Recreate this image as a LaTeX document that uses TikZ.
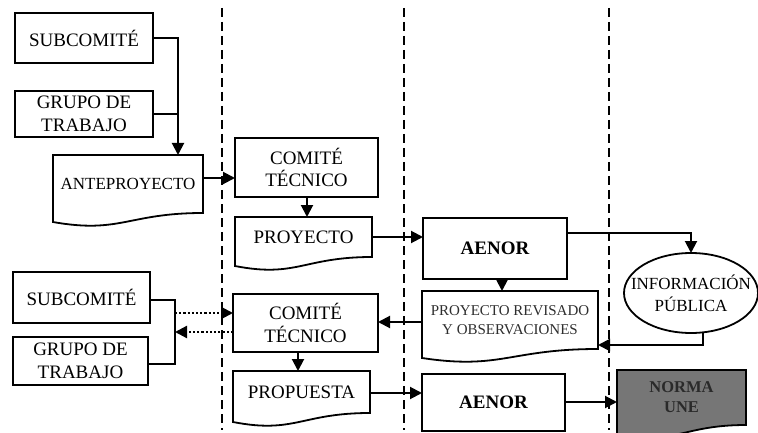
\documentclass[tikz,border=0pt]{standalone}
\usepackage{fontspec}
\setmainfont{Liberation Serif}
\usetikzlibrary{arrows.meta,shapes.geometric,calc,backgrounds}
\definecolor{normagray}{HTML}{767676}
\definecolor{normatext}{HTML}{2A2A2A}
\newcommand{\docshape}[2][]{%
  \draw[line width=1.8pt,#1] (#2.north west) -- (#2.north east) -- (#2.south east)
    .. controls ($(#2.south east)!0.5!(#2.south west)$) and ($(#2.south west)!0.45!(#2.south east)+(0,21)$)
    .. ($(#2.south west)+(0,9)$) -- cycle;}
\begin{document}
\begin{tikzpicture}[x=1pt,y=-1pt,
  box/.style={draw,line width=1.8pt,inner sep=0pt,outer sep=0pt,anchor=north west,align=center,font=\fontsize{19}{22.5}\selectfont},
  docbox/.style={inner sep=0pt,outer sep=0pt,anchor=north west,align=center,font=\fontsize{19}{22.5}\selectfont},
  arr/.style={line width=2pt,-{Triangle[length=12pt,width=12pt]}},
  ln/.style={line width=2pt},
  dotarr/.style={line width=2.2pt,dash pattern=on 2.2pt off 2pt,-{Triangle[length=12pt,width=12pt]}},
  divider/.style={line width=2.2pt,dash pattern=on 9pt off 5pt}]
\useasboundingbox (0,0) rectangle (758,433);

% dashed dividers
\draw[divider] (222,8) -- (222,430);
\draw[divider] (404,8) -- (404,430);
\draw[divider] (609,8) -- (609,430);

% top left
\node[box,minimum width=138pt,minimum height=50pt] (sub1) at (15,13) {SUBCOMITÉ};
\node[box,minimum width=138pt,minimum height=46pt] (grp1) at (15,91) {GRUPO DE\\TRABAJO};
\node[docbox,minimum width=150pt,minimum height=58pt,font=\fontsize{17}{20}\selectfont] (ante) at (53,155) {\raisebox{-3pt}{ANTEPROYECTO}};

% second column top
\node[box,minimum width=143pt,minimum height=59pt] (com1) at (235,138) {COMITÉ\\TÉCNICO};
\node[docbox,minimum width=137pt,minimum height=40pt] (proy) at (235,217) {PROYECTO};

% third column
\node[box,minimum width=144pt,minimum height=61pt,font=\fontsize{19}{22}\selectfont\bfseries] (aen1) at (423,218) {AENOR};
\node[docbox,minimum width=176pt,minimum height=58pt,font=\fontsize{15}{19}\selectfont,text=black!82] (rev) at (422,291) {PROYECTO REVISADO\\Y OBSERVACIONES};

% fourth column
\node[draw,ellipse,line width=1.8pt,inner sep=0pt,outer sep=0pt,minimum width=134pt,minimum height=80pt,
  label={[align=center,font=\fontsize{17}{22}\selectfont]center:INFORMACIÓN\\PÚBLICA}] (info) at (691,293) {};

% bottom left
\node[box,minimum width=137pt,minimum height=51pt] (sub2) at (13,272) {SUBCOMITÉ};
\node[box,minimum width=135pt,minimum height=48pt] (grp2) at (13,337) {GRUPO DE\\TRABAJO};
\node[box,minimum width=145pt,minimum height=58pt] (com2) at (233,294) {COMITÉ\\TÉCNICO};
\node[docbox,minimum width=137pt,minimum height=42pt] (prop) at (233,371) {PROPUESTA};
\node[box,minimum width=143pt,minimum height=57pt,font=\fontsize{19}{22}\selectfont\bfseries] (aen2) at (422,374) {AENOR};
\node[docbox,minimum width=129pt,minimum height=55pt,font=\fontsize{16.5}{20}\selectfont\bfseries,text=normatext] (norma) at (617,370) {NORMA\\UNE};

\begin{pgfonlayer}{background}
\docshape{ante}
\docshape{proy}
\docshape{rev}
\docshape{prop}
\docshape[fill=normagray]{norma}
\end{pgfonlayer}

% helper coordinates
\coordinate (col1) at (178,0);
\coordinate (r1) at (0,178);
\coordinate (col2) at (307,0);
\coordinate (r2) at (0,233);
\coordinate (col3) at (502,0);
\coordinate (r3) at (0,345);
\coordinate (r4) at (0,322);
\coordinate (col4) at (298,0);
\coordinate (r5) at (0,393);
\coordinate (r6) at (0,402);
\coordinate (col5) at (175,0);
\coordinate (r7) at (0,300);
\coordinate (r8) at (0,364);
\coordinate (r9) at (0,313);
\coordinate (r10) at (0,332);

% connectors top
\draw[arr] (sub1.east) -| (ante.north -| col1);
\draw[ln] (grp1.east) -- (grp1.east -| col1);
\draw[arr] (ante.east |- r1) -- (com1.west |- r1);
\draw[arr] (com1.south -| col2) -- (proy.north -| col2);
\draw[arr] (proy.east) -- (aen1.west |- proy.east);
\draw[arr] (aen1.east |- r2) -| (info.north);
\draw[arr] ([xshift=12pt]info.south) |- (rev.east |- r3);
\draw[arr] (aen1.south -| col3) -- (rev.north -| col3);
\draw[arr] (rev.west |- r4) -- (com2.east |- r4);

% connectors bottom
\draw[arr] (com2.south -| col4) -- (prop.north -| col4);
\draw[arr] (prop.east |- r5) -- (aen2.west |- r5);
\draw[arr] (aen2.east |- r6) -- (norma.west |- r6);
\draw[ln] (sub2.east |- r7) -| (col5 |- r8) -- (grp2.east |- r8);
\draw[dotarr] (col5 |- r9) -- (com2.west |- r9);
\draw[dotarr] (com2.west |- r10) -- (col5 |- r10);
\end{tikzpicture}
\end{document}
